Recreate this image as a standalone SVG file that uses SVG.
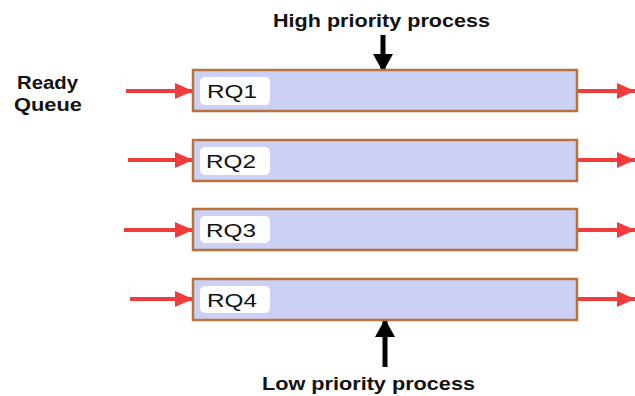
<svg xmlns="http://www.w3.org/2000/svg" width="635" height="396" viewBox="0 0 635 396">
<defs>
<style>
.q{fill:#cdd0f5;stroke:#b8733a;stroke-width:2.5}
.lb{fill:#ffffff}
.lt{font-family:"Liberation Sans",Arial,sans-serif;font-size:19px;fill:#111}
.bt{font-family:"Liberation Sans",Arial,sans-serif;font-size:18px;font-weight:bold;fill:#111}
.ra{stroke:#f23b3b;stroke-width:4;fill:none;marker-end:url(#rh)}
.ba{stroke:#000;stroke-width:5;fill:none;marker-end:url(#bh)}
</style>
<marker id="rh" markerUnits="userSpaceOnUse" markerWidth="20" markerHeight="20" refX="18" refY="10" orient="auto">
<path d="M0,2 L18,10 L0,18 Z" fill="#f23b3b"/>
</marker>
<marker id="bh" markerUnits="userSpaceOnUse" markerWidth="22" markerHeight="22" refX="18" refY="11" orient="auto">
<path d="M0,1 L18,11 L0,21 Z" fill="#000"/>
</marker>
</defs>
<rect width="635" height="396" fill="#fff"/>
<g id="connectors">
<path class="ra" d="M126,91 L193,91"/>
<path class="ra" d="M577,91 L635,91"/>
<path class="ra" d="M128,160 L193,160"/>
<path class="ra" d="M577,160 L635,160"/>
<path class="ra" d="M124,230 L193,230"/>
<path class="ra" d="M577,230 L635,230"/>
<path class="ra" d="M130,299 L193,299"/>
<path class="ra" d="M577,299 L635,299"/>
<path class="ba" d="M383,35 L383,72"/>
<path class="ba" d="M385,367 L385,319"/>
</g>
<g id="rq1">
<rect class="q" x="193" y="70" width="384" height="41"/>
<rect class="lb" x="200" y="77" width="70" height="28" rx="5"/>
<text class="lt" x="207" y="98" textLength="50" lengthAdjust="spacingAndGlyphs">RQ1</text>
</g>
<g id="rq2">
<rect class="q" x="193" y="140" width="384" height="41"/>
<rect class="lb" x="200" y="147" width="70" height="28" rx="5"/>
<text class="lt" x="206" y="168" textLength="50" lengthAdjust="spacingAndGlyphs">RQ2</text>
</g>
<g id="rq3">
<rect class="q" x="193" y="209" width="384" height="41"/>
<rect class="lb" x="200" y="216" width="70" height="27" rx="5"/>
<text class="lt" x="206" y="237" textLength="50" lengthAdjust="spacingAndGlyphs">RQ3</text>
</g>
<g id="rq4">
<rect class="q" x="193" y="279" width="384" height="41"/>
<rect class="lb" x="200" y="286" width="70" height="27" rx="5"/>
<text class="lt" x="207" y="307" textLength="50" lengthAdjust="spacingAndGlyphs">RQ4</text>
</g>
<g id="ready-queue">
<text class="bt" x="17" y="89" textLength="61" lengthAdjust="spacingAndGlyphs">Ready</text>
<text class="bt" x="14" y="111" textLength="68" lengthAdjust="spacingAndGlyphs">Queue</text>
</g>
<g id="high">
<text class="bt" x="273" y="27" textLength="217" lengthAdjust="spacingAndGlyphs">High priority process</text>
</g>
<g id="low">
<text class="bt" x="262" y="390" textLength="213" lengthAdjust="spacingAndGlyphs">Low priority process</text>
</g>
</svg>
